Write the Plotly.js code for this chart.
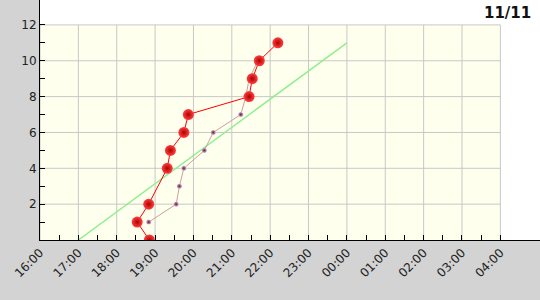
<!DOCTYPE html>
<html>
<head>
<meta charset="utf-8">
<script src="https://cdn.plot.ly/plotly-3.0.1.min.js"></script>
<style>html,body{margin:0;padding:0;background:#d3d3d3;}#chart{width:540px;height:300px;}</style>
</head>
<body>
<div id="chart"></div>
<script>
// ---- data ----
const redTimes = ["2023-11-11 18:51","2023-11-11 18:32","2023-11-11 18:50","2023-11-11 19:19","2023-11-11 19:24","2023-11-11 19:45","2023-11-11 19:52","2023-11-11 21:27","2023-11-11 21:32","2023-11-11 21:43","2023-11-11 22:12"];
const redValues = [0,1,2,4,5,6,7,8,9,10,11];
const pinkTimes = ["2023-11-11 18:50","2023-11-11 19:33","2023-11-11 19:38","2023-11-11 19:45","2023-11-11 20:17","2023-11-11 20:31","2023-11-11 21:14","2023-11-11 21:22","2023-11-11 21:27","2023-11-11 21:41"];
const pinkValues = [1,2,3,4,5,6,7,8,9,10];
const greenTimes = ["2023-11-11 17:00","2023-11-12 00:00"];
const greenValues = [0,11];
const hourTicks = ["2023-11-11 16:00","2023-11-11 17:00","2023-11-11 18:00","2023-11-11 19:00","2023-11-11 20:00","2023-11-11 21:00","2023-11-11 22:00","2023-11-11 23:00","2023-11-12 00:00","2023-11-12 01:00","2023-11-12 02:00","2023-11-12 03:00","2023-11-12 04:00"];
const halfHourTicks = ["2023-11-11 16:30","2023-11-11 17:30","2023-11-11 18:30","2023-11-11 19:30","2023-11-11 20:30","2023-11-11 21:30","2023-11-11 22:30","2023-11-11 23:30","2023-11-12 00:30","2023-11-12 01:30","2023-11-12 02:30","2023-11-12 03:30"];
const yTicks = [2,4,6,8,10,12];
const yMinorTicks = [1,3,5,7,9,11];
const titleText = "11/11";

// ---- build ----
const gridColor = "#c8c8c8";
const xStart = hourTicks[0], xEnd = hourTicks[hourTicks.length-1];
const yTop = yTicks[yTicks.length-1];
const shapes = [{type:"rect", xref:"x", yref:"y", x0:xStart, x1:xEnd, y0:0, y1:yTop, fillcolor:"#ffffee", line:{width:0}, layer:"below"}];
hourTicks.forEach(t => shapes.push({type:"line", xref:"x", yref:"y", x0:t, x1:t, y0:0, y1:yTop, line:{color:gridColor, width:1}, layer:"below"}));
yTicks.forEach(v => shapes.push({type:"line", xref:"x", yref:"y", x0:xStart, x1:xEnd, y0:v, y1:v, line:{color:gridColor, width:1}, layer:"below"}));

const traces = [
  {x:greenTimes, y:greenValues, type:"scatter", mode:"lines", line:{color:"#90ee90", width:1.5}, hoverinfo:"skip"},
  {x:pinkTimes, y:pinkValues, type:"scatter", mode:"lines+markers", line:{color:"#c8a0a0", width:1},
   marker:{size:5, color:"#e0b0d0", gradient:{type:"radial", color:"#4a2038"}, line:{width:0}}},
  {x:redTimes, y:redValues, type:"scatter", mode:"lines+markers", line:{color:"#ff0000", width:1},
   marker:{size:11, color:"#ff4040", gradient:{type:"radial", color:"#b00000"}, line:{width:0}}}
];

const layout = {
  width:540, height:300,
  margin:{l:40, r:0, t:0, b:60, pad:0},
  paper_bgcolor:"#d3d3d3", plot_bgcolor:"#ffffff",
  showlegend:false,
  font:{family:"DejaVu Sans", size:12, color:"#222"},
  xaxis:{type:"date", range:["2023-11-11 16:00","2023-11-12 05:02"], tickmode:"array", tickvals:hourTicks,
    tickformat:"%H:%M", tickangle:-45, ticks:"inside", ticklen:5, tickcolor:"#000", showgrid:false, zeroline:false,
    showline:true, linecolor:"#000", linewidth:1, fixedrange:true,
    minor:{tickmode:"array", tickvals:halfHourTicks, ticks:"inside", ticklen:5, tickcolor:"#000", showgrid:false}},
  yaxis:{range:[0,13.39], tickmode:"array", tickvals:yTicks, ticks:"inside", ticklen:5, tickcolor:"#000",
    showgrid:false, zeroline:false, showline:true, linecolor:"#000", linewidth:1, fixedrange:true,
    minor:{tickmode:"array", tickvals:yMinorTicks, ticks:"inside", ticklen:5, tickcolor:"#000", showgrid:false}},
  shapes:shapes,
  annotations:[{text:titleText, xref:"paper", yref:"paper", x:1, y:1, xanchor:"right", yanchor:"top", xshift:-7, yshift:-2,
    showarrow:false, font:{family:"DejaVu Sans", size:15, color:"#111", weight:"bold"}}]
};
Plotly.newPlot("chart", traces, layout, {displayModeBar:false, staticPlot:true});
</script>
</body>
</html>
